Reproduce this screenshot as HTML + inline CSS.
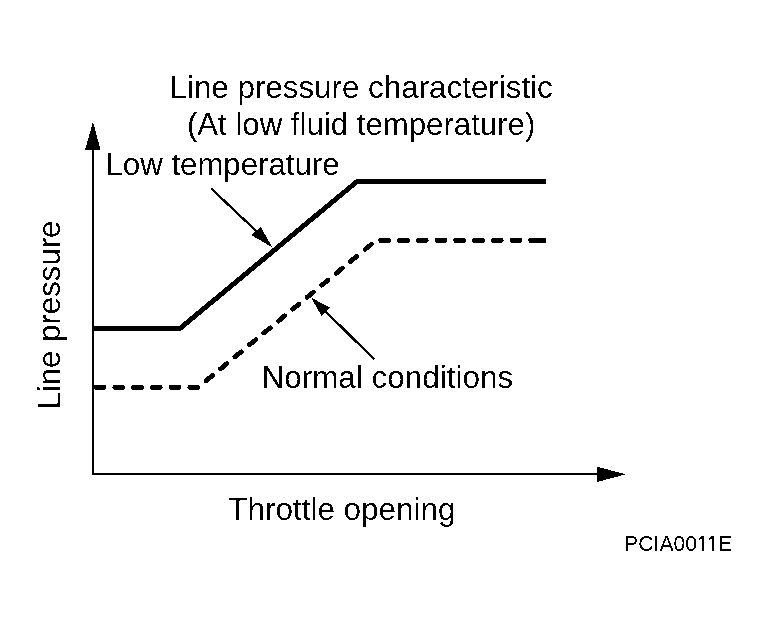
<!DOCTYPE html>
<html><head><meta charset="utf-8"><style>
html,body{margin:0;padding:0;background:#fff;}
body{width:768px;height:626px;overflow:hidden;}
svg{display:block;}
text{font-family:"Liberation Sans",Arial,sans-serif;fill:#000;}
</style></head><body>
<svg width="768" height="626" viewBox="0 0 768 626">
<defs><filter id="bin" filterUnits="userSpaceOnUse" x="0" y="0" width="768" height="626" color-interpolation-filters="sRGB"><feComponentTransfer><feFuncA type="discrete" tableValues="0 1"/></feComponentTransfer></filter></defs>
<rect width="768" height="626" fill="#fff"/>
<g filter="url(#bin)">
<!-- axes -->
<line x1="93" y1="140" x2="93" y2="475" stroke="#000" stroke-width="2"/>
<line x1="92" y1="474" x2="600" y2="474" stroke="#000" stroke-width="2"/>
<polygon points="93,121.8 85,150 100.5,150" fill="#000"/>
<polygon points="626,474.2 597,466.8 597,481.9" fill="#000"/>
<!-- low temperature solid -->
<polygon points="93,326.0 178.98,326.0 356.18,179.0 546,179.0 546,183.85 358.16,183.85 181.02,330.8 93,330.8" fill="#000"/>
<!-- normal dashed -->
<polyline points="95.9,387.4 198.0,387.4 375.9,240.5 546,240.5" fill="none" stroke="#000" stroke-width="4.8" stroke-dasharray="8.2 10.55" stroke-linecap="round"/>
<line x1="540" y1="240.5" x2="546" y2="240.5" stroke="#000" stroke-width="4.8"/>
<!-- leaders -->
<line x1="211.3" y1="188.6" x2="262" y2="236.5" stroke="#000" stroke-width="2.4"/>
<polygon points="272.2,247.2 251.5,235.3 260.7,226.7" fill="#000"/>
<line x1="374.4" y1="359.5" x2="320" y2="306" stroke="#000" stroke-width="2.4"/>
<polygon points="311,297.5 321.5,316 330.2,307.8" fill="#000"/>
<!-- text -->
<text x="169.5" y="98" font-size="31.35">Line pressure characteristic</text>
<text x="186.9" y="135" font-size="31.2">(At low fluid temperature)</text>
<text x="105.5" y="175" font-size="31.2">Low temperature</text>
<text x="261.5" y="388" font-size="31.45">Normal conditions</text>
<text x="228.3" y="520" font-size="31.45">Throttle opening</text>
<text transform="translate(60,409.5) rotate(-90)" font-size="31.2">Line pressure</text>
<text y="551" font-size="21.2"><tspan x="624.1">PCIA00</tspan><tspan x="696" font-family="NanumGothic, &quot;Liberation Sans&quot;, sans-serif" font-size="20" stroke="#000" stroke-width="0.6">1</tspan><tspan x="706" font-family="NanumGothic, &quot;Liberation Sans&quot;, sans-serif" font-size="20" stroke="#000" stroke-width="0.6">1</tspan><tspan x="718">E</tspan></text>
</g>
</svg>
</body></html>
